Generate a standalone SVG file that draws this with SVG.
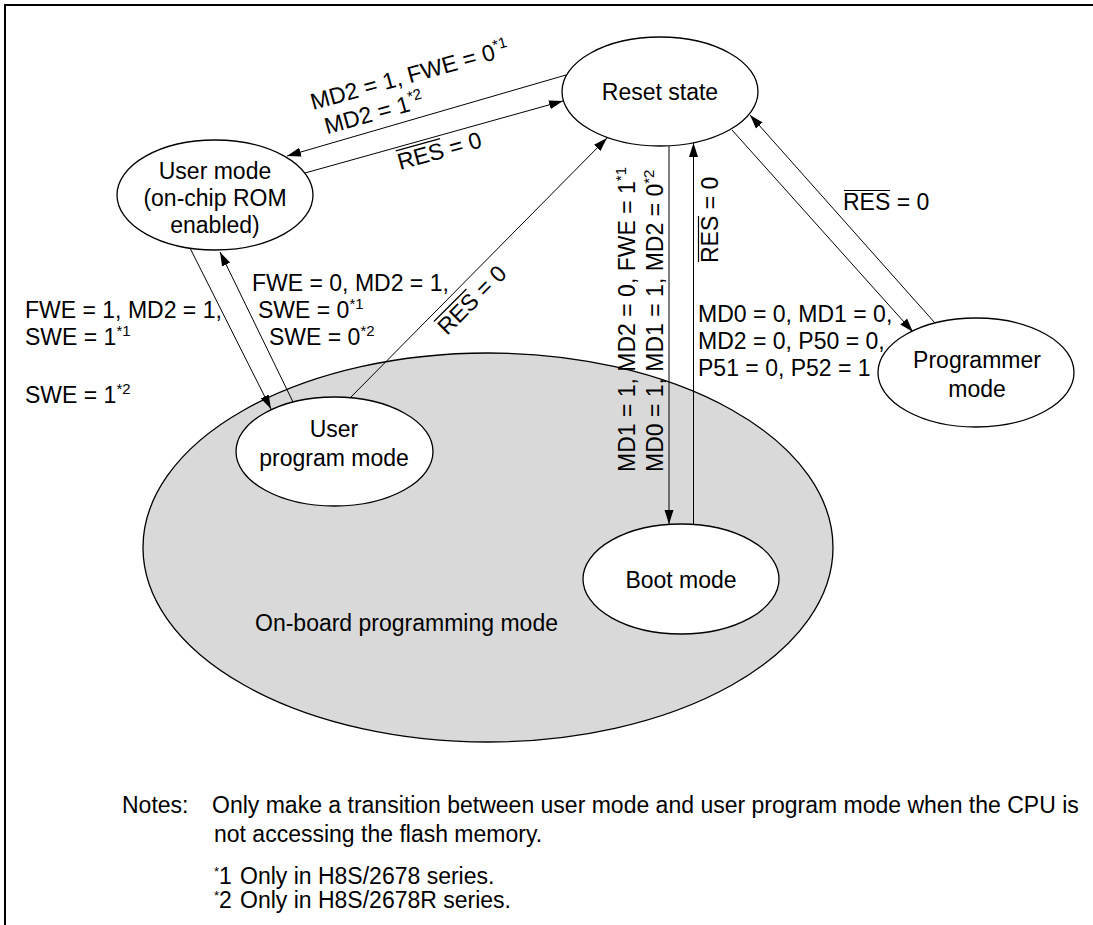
<svg xmlns="http://www.w3.org/2000/svg" width="1093" height="925" viewBox="0 0 1093 925">
<style>
.t{font-family:"Liberation Sans",Arial,Helvetica,sans-serif;font-size:23px;fill:#000}
.sup{font-size:15px}
.st{font-size:13px}
.node ellipse{fill:#fff;stroke:#000;stroke-width:1.3}
.region{fill:#d9d9d9;stroke:#000;stroke-width:1.3}
.conn line{stroke:#000;stroke-width:1;fill:none;marker-end:url(#ah)}
.ol{stroke:#000;stroke-width:1.2}
</style>
<defs>
<marker id="ah" markerWidth="14" markerHeight="10" refX="14" refY="5" orient="auto" markerUnits="userSpaceOnUse">
<path d="M0,0.5 L14,5 L0,9.5 z" fill="#000"/>
</marker>
</defs>
<rect width="1093" height="925" fill="#fff"/>
<path d="M5,925 V5 H1093" fill="none" stroke="#000" stroke-width="2"/>

<g id="onboard">
<ellipse class="region" cx="488" cy="547.5" rx="345" ry="194.5"/>
<text class="t" x="255" y="631">On-board programming mode</text>
</g>

<g id="connectors" class="conn">
<line x1="566" y1="75" x2="287" y2="156"/>
<line x1="305" y1="173" x2="563" y2="101"/>
<line x1="190" y1="248" x2="271" y2="409"/>
<line x1="293" y1="402" x2="220" y2="252"/>
<line x1="350" y1="398" x2="607" y2="138"/>
<line x1="669" y1="146" x2="669" y2="524"/>
<line x1="693.5" y1="524" x2="693.5" y2="143"/>
<line x1="732" y1="130" x2="913" y2="332"/>
<line x1="935" y1="323" x2="750" y2="115"/>
</g>

<g id="reset" class="node">
<ellipse cx="660" cy="91.5" rx="98" ry="54.5"/>
<text class="t" x="660" y="100" text-anchor="middle">Reset state</text>
</g>
<g id="usermode" class="node">
<ellipse cx="215" cy="195" rx="98" ry="55"/>
<text class="t" text-anchor="middle"><tspan x="215" y="179">User mode</tspan><tspan x="215" y="206">(on-chip ROM</tspan><tspan x="215" y="233">enabled)</tspan></text>
</g>
<g id="userprogram" class="node">
<ellipse cx="334.5" cy="451.5" rx="98.5" ry="54.5"/>
<text class="t" text-anchor="middle"><tspan x="334" y="437">User</tspan><tspan x="334" y="466">program mode</tspan></text>
</g>
<g id="boot" class="node">
<ellipse cx="681" cy="579" rx="98" ry="55"/>
<text class="t" x="681" y="588" text-anchor="middle">Boot mode</text>
</g>
<g id="programmer" class="node">
<ellipse cx="976" cy="372.5" rx="98" ry="54.5"/>
<text class="t" text-anchor="middle"><tspan x="977" y="368">Programmer</tspan><tspan x="977" y="397">mode</tspan></text>
</g>

<g id="labels">
<g transform="translate(313,110) rotate(-15.5)">
<text class="t" x="0" y="0">MD2 = 1, FWE = 0<tspan class="sup" dy="-9">*1</tspan></text>
<text class="t" x="7" y="27">MD2 = 1<tspan class="sup" dy="-9">*2</tspan></text>
</g>
<g transform="translate(400,170) rotate(-15.5)">
<text class="t" x="0" y="0">RES = 0</text>
<line class="ol" x1="1" y1="-19.5" x2="47" y2="-19.5"/>
</g>
<g transform="translate(447,336) rotate(-45)">
<text class="t" x="0" y="0">RES = 0</text>
<line class="ol" x1="1" y1="-19.5" x2="47" y2="-19.5"/>
</g>
<text class="t" x="25" y="318">FWE = 1, MD2 = 1,</text>
<text class="t" x="25" y="345">SWE = 1<tspan class="sup" dy="-9">*1</tspan></text>
<text class="t" x="25" y="403">SWE = 1<tspan class="sup" dy="-9">*2</tspan></text>
<text class="t" x="252" y="291">FWE = 0, MD2 = 1,</text>
<text class="t" x="258" y="318">SWE = 0<tspan class="sup" dy="-9">*1</tspan></text>
<text class="t" x="269" y="345">SWE = 0<tspan class="sup" dy="-9">*2</tspan></text>
<g transform="translate(635,472) rotate(-90)">
<text class="t" x="0" y="0">MD1 = 1, MD2 = 0, FWE = 1<tspan class="sup" dy="-9">*1</tspan></text>
<text class="t" x="0" y="28">MD0 = 1, MD1 = 1, MD2 = 0<tspan class="sup" dy="-9">*2</tspan></text>
</g>
<g transform="translate(718,263) rotate(-90)">
<text class="t" x="0" y="0">RES = 0</text>
<line class="ol" x1="1" y1="-19.5" x2="47" y2="-19.5"/>
</g>
<g>
<text class="t" x="843" y="210">RES = 0</text>
<line class="ol" x1="844" y1="190.5" x2="890" y2="190.5"/>
</g>
<text class="t"><tspan x="698" y="322">MD0 = 0, MD1 = 0,</tspan><tspan x="698" y="349">MD2 = 0, P50 = 0,</tspan><tspan x="698" y="376">P51 = 0, P52 = 1</tspan></text>
</g>

<g id="notes">
<text class="t" x="122" y="813">Notes:</text>
<text class="t" x="212" y="813">Only make a transition between user mode and user program mode when the CPU is</text>
<text class="t" x="214" y="842">not accessing the flash memory.</text>
<text class="t" y="884"><tspan class="st" x="214" dy="-8">*</tspan><tspan dy="8">1</tspan><tspan x="240">Only in H8S/2678 series.</tspan></text>
<text class="t" y="908"><tspan class="st" x="214" dy="-8">*</tspan><tspan dy="8">2</tspan><tspan x="240">Only in H8S/2678R series.</tspan></text>
</g>
</svg>
